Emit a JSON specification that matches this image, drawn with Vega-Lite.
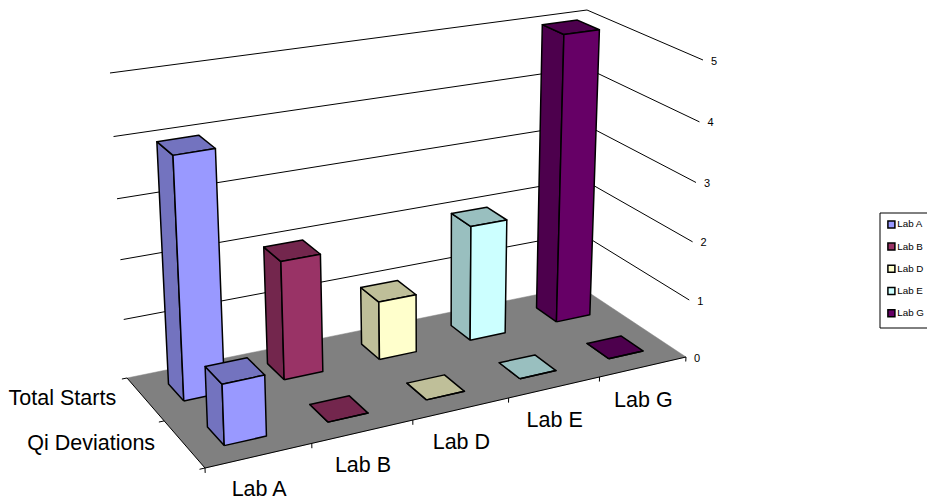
{"$schema":"https://vega.github.io/schema/vega-lite/v6.json","usermeta":{"embedOptions":{"actions":false}},"width":927,"height":501,"padding":0,"autosize":{"type":"none"},"background":"white","view":{"stroke":null},"config":{"font":"Liberation Sans"},
"data":{"values":[
{"kind":"floor"},{"kind":"edge"},
{"kind":"grid","value":1},{"kind":"grid","value":2},{"kind":"grid","value":3},{"kind":"grid","value":4},{"kind":"grid","value":5},
{"kind":"xtick","boundary":0},{"kind":"xtick","boundary":1},{"kind":"xtick","boundary":2},{"kind":"xtick","boundary":3},{"kind":"xtick","boundary":4},{"kind":"xtick","boundary":5},
{"kind":"dtick","boundary":0},{"kind":"dtick","boundary":1},{"kind":"dtick","boundary":2},
{"kind":"valueLabel","value":0},{"kind":"valueLabel","value":1},{"kind":"valueLabel","value":2},{"kind":"valueLabel","value":3},{"kind":"valueLabel","value":4},{"kind":"valueLabel","value":5},
{"kind":"labLabel","lab":"Lab A"},{"kind":"labLabel","lab":"Lab B"},{"kind":"labLabel","lab":"Lab D"},{"kind":"labLabel","lab":"Lab E"},{"kind":"labLabel","lab":"Lab G"},
{"kind":"seriesLabel","series":"Total Starts"},{"kind":"seriesLabel","series":"Qi Deviations"},
{"kind":"bar","lab":"Lab A","series":"Total Starts","value":4},
{"kind":"bar","lab":"Lab B","series":"Total Starts","value":2},
{"kind":"bar","lab":"Lab D","series":"Total Starts","value":1},
{"kind":"bar","lab":"Lab E","series":"Total Starts","value":2},
{"kind":"bar","lab":"Lab G","series":"Total Starts","value":5},
{"kind":"bar","lab":"Lab A","series":"Qi Deviations","value":1},
{"kind":"bar","lab":"Lab B","series":"Qi Deviations","value":0},
{"kind":"bar","lab":"Lab D","series":"Qi Deviations","value":0},
{"kind":"bar","lab":"Lab E","series":"Qi Deviations","value":0},
{"kind":"bar","lab":"Lab G","series":"Qi Deviations","value":0}
]},
"transform":[
{"calculate":"datum.kind=='bar'?['side','top','front']:['only']","as":"faces"},
{"flatten":["faces"],"as":["face"]},
{"calculate":"indexof(['Lab A','Lab B','Lab D','Lab E','Lab G'],datum.lab)","as":"i"},
{"calculate":"(datum.i+0.5)/5-0.04","as":"x0"},
{"calculate":"(datum.i+0.5)/5+0.04","as":"x1"},
{"calculate":"datum.series=='Qi Deviations'?0.155:0.65","as":"d0"},
{"calculate":"datum.d0+0.2","as":"d1"},
{"calculate":"datum.kind=='bar'?(datum.face=='side'?[[datum.x0,datum.d0,0],[datum.x0,datum.d1,0],[datum.x0,datum.d1,datum.value],[datum.x0,datum.d0,datum.value],[datum.x0,datum.d0,0]]:datum.face=='top'?[[datum.x0,datum.d0,datum.value],[datum.x1,datum.d0,datum.value],[datum.x1,datum.d1,datum.value],[datum.x0,datum.d1,datum.value],[datum.x0,datum.d0,datum.value]]:[[datum.x0,datum.d0,0],[datum.x1,datum.d0,0],[datum.x1,datum.d0,datum.value],[datum.x0,datum.d0,datum.value],[datum.x0,datum.d0,0]]):datum.kind=='floor'?[[0,0,0],[1,0,0],[1,1,0],[0,1,0]]:datum.kind=='edge'?[[0,1,0],[0,0,0],[1,0,0]]:datum.kind=='grid'?[[0,1,datum.value],[1,1,datum.value],[1,0,datum.value]]:datum.kind=='xtick'?[[datum.boundary/5,0,0],[datum.boundary/5,0,-0.08]]:datum.kind=='dtick'?[[0,datum.boundary/2,0],[-0.01,datum.boundary/2,0]]:datum.kind=='valueLabel'?[[1,0,datum.value]]:datum.kind=='labLabel'?[[(datum.i+0.5)/5,0,0]]:[[0,datum.series=='Qi Deviations'?0.25:0.75,0]]","as":"pts"},
{"calculate":"slice([0,1,2,3,4],0,length(datum.pts))","as":"idxs"},
{"flatten":["pts","idxs"],"as":["pt","idx"]},
{"calculate":"datum.pt[0]","as":"X"},
{"calculate":"datum.pt[1]","as":"D"},
{"calculate":"datum.pt[2]","as":"Z"},
{"calculate":"0.14117*datum.X+0.09757*datum.D+1","as":"W"},
{"calculate":"(datum.Z/5)*0.95/(1-0.01*datum.Z)","as":"t"},
{"calculate":"(1-datum.X)*(1-datum.D)*-12+datum.X*(1-datum.D)*17+datum.X*datum.D*8+(1-datum.X)*datum.D*-17","as":"dU"},
{"calculate":"(1-datum.X)*(1-datum.D)*325+datum.X*(1-datum.D)*297+datum.X*datum.D*276+(1-datum.X)*datum.D*305","as":"H"},
{"calculate":"(577.84*datum.X-65.61*datum.D+205)/datum.W+datum.dU*datum.t","as":"U"},
{"calculate":"(-60.6*datum.X-53.12*datum.D+468)/datum.W-datum.H*datum.t","as":"V"},
{"calculate":"datum.kind+'|'+datum.lab+'|'+datum.series+'|'+datum.value+'|'+datum.boundary+'|'+datum.face","as":"key"},
{"calculate":"datum.lab+(datum.face=='front'?'':' shade')","as":"fillKey"}
],
"encoding":{
"x":{"field":"U","type":"quantitative","axis":null,"scale":{"domain":[0,927],"nice":false,"zero":false}},
"y":{"field":"V","type":"quantitative","axis":null,"scale":{"domain":[0,501],"reverse":true,"nice":false,"zero":false}}
},
"layer":[
{"transform":[{"filter":"datum.kind=='grid'"}],"mark":{"type":"line","stroke":"#000000","strokeWidth":1,"clip":false},"encoding":{"detail":{"field":"key"},"order":{"field":"idx","type":"quantitative"}}},
{"transform":[{"filter":"datum.kind=='floor'"}],"mark":{"type":"line","fill":"#808080","stroke":"#808080","strokeWidth":0.5},"encoding":{"order":{"field":"idx","type":"quantitative"}}},
{"transform":[{"filter":"datum.kind=='edge'||datum.kind=='xtick'||datum.kind=='dtick'"}],"mark":{"type":"line","stroke":"#000000","strokeWidth":1},"encoding":{"detail":{"field":"key"},"order":{"field":"idx","type":"quantitative"}}},
{"transform":[{"filter":"datum.kind=='bar'"}],"mark":{"type":"line","stroke":"#000000","strokeWidth":1.5,"strokeJoin":"round"},"encoding":{"detail":{"field":"key"},"order":{"field":"idx","type":"quantitative"},
"fill":{"field":"fillKey","type":"nominal","scale":{"domain":["Lab A","Lab B","Lab D","Lab E","Lab G","Lab A shade","Lab B shade","Lab D shade","Lab E shade","Lab G shade"],"range":["#9999FF","#993366","#FFFFCC","#CCFFFF","#660066","#7373BF","#73264D","#BFBF99","#99BFBF","#4D004D"]},
"legend":{"title":null,"orient":"none","legendX":879.5,"legendY":212.5,"values":["Lab A","Lab B","Lab D","Lab E","Lab G"],"symbolType":"square","symbolSize":49,"symbolStrokeColor":"#000000","symbolStrokeWidth":1.5,"labelFontSize":9.8,"labelFont":"Liberation Sans","labelColor":"#000000","strokeColor":"#000000","fillColor":"#ffffff","padding":7,"rowPadding":8.2,"labelOffset":1,"labelLimit":60}}}},
{"transform":[{"filter":"datum.kind=='valueLabel'"}],"mark":{"type":"text","align":"left","baseline":"middle","dx":8,"dy":1.5,"fontSize":11,"color":"#000000"},"encoding":{"text":{"field":"value","type":"nominal"}}},
{"transform":[{"filter":"datum.kind=='labLabel'"}],"mark":{"type":"text","align":"center","baseline":"middle","dy":34,"fontSize":21.5,"color":"#000000"},"encoding":{"text":{"field":"lab","type":"nominal"}}},
{"transform":[{"filter":"datum.kind=='seriesLabel'"}],"mark":{"type":"text","align":"right","baseline":"middle","dx":-29,"fontSize":21.5,"color":"#000000"},"encoding":{"text":{"field":"series","type":"nominal"}}}
]}
